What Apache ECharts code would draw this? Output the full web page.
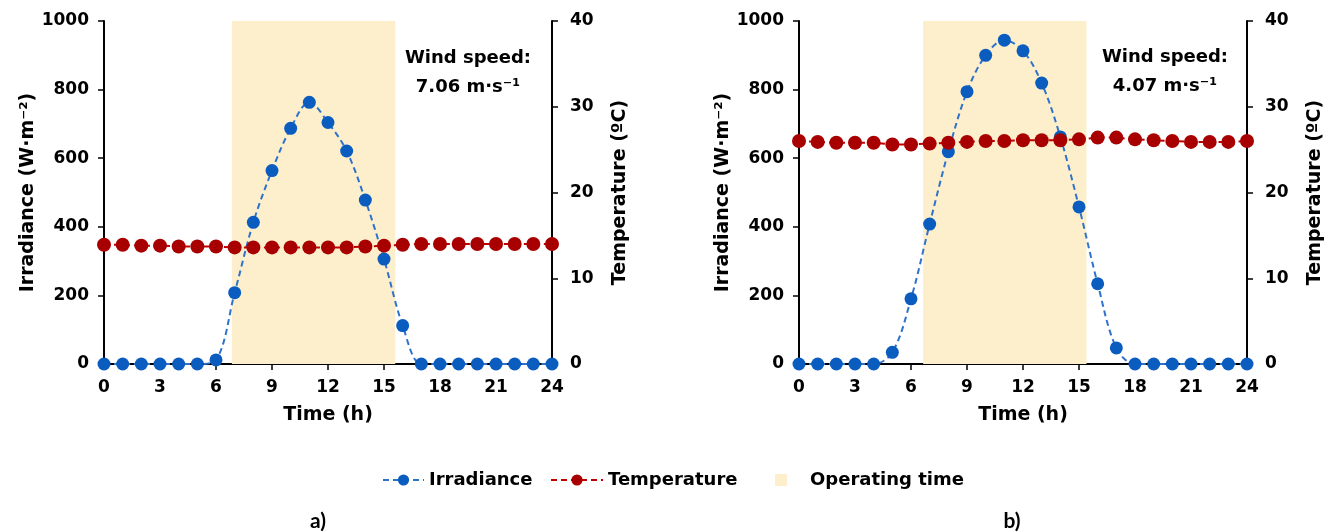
<!DOCTYPE html>
<html><head><meta charset="utf-8">
<script src="https://cdn.jsdelivr.net/npm/echarts@6/dist/echarts.min.js"></script>
<style>html,body{margin:0;padding:0;background:#fff}#c{width:1332px;height:532px}</style>
</head><body><div id="c"></div>
<script>
const hours = [0,1,2,3,4,5,6,7,8,9,10,11,12,13,14,15,16,17,18,19,20,21,22,23,24];
const irrA  = [0,0,0,0,0,0,12,208,413,564,687,763,704,621,478,306,112,0,0,0,0,0,0,0,0];
const tempA = [13.9,13.9,13.8,13.8,13.7,13.7,13.7,13.6,13.6,13.6,13.6,13.6,13.6,13.6,13.7,13.8,13.9,14.0,14.0,14.0,14.0,14.0,14.0,14.0,14.0];
const irrB  = [0,0,0,0,0,34,190,408,619,794,900,944,913,819,662,458,234,47,0,0,0,0,0,0,0];
const tempB = [26.0,25.9,25.8,25.8,25.8,25.6,25.6,25.7,25.8,25.9,26.0,26.0,26.1,26.1,26.1,26.2,26.4,26.4,26.2,26.1,26.0,25.9,25.9,25.9,26.0];
const opA = [6.85, 15.6];
const opB = [6.65, 15.4];
const windA = '7.06';
const windB = '4.07';
const panelLabels = ['a)', 'b)'];

const FF = 'DejaVu Sans';
const BLUE = '#0A5CBF', BLUE_L = '#2F72CC', RED = '#A80000', RED_L = '#C00000', SHADE = '#FDEFCC';
const pairs = v => hours.map((h, i) => [h, v[i]]);
const txt = (size) => ({color: '#000', fontFamily: FF, fontWeight: 'bold', fontSize: size});
const plain = v => String(v);

function xAxis(gi) {
  return {type: 'value', gridIndex: gi, min: 0, max: 24, interval: 3,
    name: 'Time (h)', nameLocation: 'middle', nameGap: 42, nameTextStyle: txt(19),
    axisLine: {lineStyle: {color: '#000', width: 2}},
    axisTick: {length: 6, lineStyle: {color: '#000', width: 1.5}},
    axisLabel: Object.assign(txt(17), {margin: 15, formatter: plain}),
    splitLine: {show: false}};
}
function yLeft(gi) {
  return {type: 'value', gridIndex: gi, min: 0, max: 1000, interval: 200, position: 'left',
    name: 'Irradiance (W·m⁻²)', nameLocation: 'middle', nameGap: 63, nameTextStyle: txt(19),
    axisLine: {show: true, lineStyle: {color: '#000', width: 2}},
    axisTick: {show: true, length: 6, lineStyle: {color: '#000', width: 1.5}},
    axisLabel: Object.assign(txt(17), {margin: 15, formatter: plain}),
    splitLine: {show: false}};
}
function yRight(gi) {
  return {type: 'value', gridIndex: gi, min: 0, max: 40, interval: 10, position: 'right',
    name: 'Temperature (ºC)', nameLocation: 'middle', nameGap: 59, nameTextStyle: txt(19),
    axisLine: {show: true, lineStyle: {color: '#000', width: 2}},
    axisTick: {show: true, length: 6, lineStyle: {color: '#000', width: 1.5}},
    axisLabel: Object.assign(txt(17), {margin: 18, formatter: plain}),
    splitLine: {show: false}};
}
function panelSeries(gi, irr, temp, op) {
  return [
    {name: 'Operating time', type: 'line', xAxisIndex: gi, yAxisIndex: gi * 2, data: [],
      itemStyle: {color: SHADE}, lineStyle: {color: SHADE},
      markArea: {silent: true, itemStyle: {color: SHADE}, data: [[{xAxis: op[0], yAxis: 0}, {xAxis: op[1], yAxis: 1000}]]}},
    {name: 'Irradiance', type: 'line', xAxisIndex: gi, yAxisIndex: gi * 2, data: pairs(irr),
      smooth: 0.35, symbol: 'circle', symbolSize: 13,
      itemStyle: {color: BLUE}, lineStyle: {color: BLUE_L, width: 2, type: [6, 4]}},
    {name: 'Temperature', type: 'line', xAxisIndex: gi, yAxisIndex: gi * 2 + 1, data: pairs(temp),
      symbol: 'circle', symbolSize: 14,
      itemStyle: {color: RED}, lineStyle: {color: RED_L, width: 2, type: [6, 4]}}
  ];
}

const chart = echarts.init(document.getElementById('c'), null, {renderer: 'canvas'});
chart.setOption({
  animation: false,
  backgroundColor: '#fff',
  grid: [
    {left: 104, top: 21, width: 448, height: 343},
    {left: 799, top: 21, width: 448, height: 343}
  ],
  xAxis: [xAxis(0), xAxis(1)],
  yAxis: [yLeft(0), yRight(0), yLeft(1), yRight(1)],
  legend: [
    {left: 382, top: 471, padding: 0, data: ['Irradiance'], itemWidth: 41, itemHeight: 14, textStyle: txt(18)},
    {left: 550, top: 471, padding: 0, data: ['Temperature'], itemWidth: 52, itemHeight: 14, textStyle: txt(18)},
    {left: 775, top: 471, padding: 0, data: [{name: 'Operating time', icon: 'rect'}], itemWidth: 12, itemHeight: 12,
      textStyle: Object.assign(txt(18), {padding: [0, 0, 0, 18]})}
  ],
  series: [].concat(panelSeries(0, irrA, tempA, opA), panelSeries(1, irrB, tempB, opB)),
  graphic: [
    {type: 'text', x: 468, y: 44, style: {text: 'Wind speed:\n' + windA + ' m·s⁻¹', textAlign: 'center', textVerticalAlign: 'top', font: 'bold 18px "DejaVu Sans"', lineHeight: 29, fill: '#000'}},
    {type: 'text', x: 1165, y: 43, style: {text: 'Wind speed:\n' + windB + ' m·s⁻¹', textAlign: 'center', textVerticalAlign: 'top', font: 'bold 18px "DejaVu Sans"', lineHeight: 29, fill: '#000'}},
    {type: 'text', x: 318, y: 521, style: {text: panelLabels[0], textAlign: 'center', textVerticalAlign: 'middle', font: 'bold 21px Lato', fill: '#000'}},
    {type: 'text', x: 1012, y: 521, style: {text: panelLabels[1], textAlign: 'center', textVerticalAlign: 'middle', font: 'bold 21px Lato', fill: '#000'}}
  ]
});
</script></body></html>
